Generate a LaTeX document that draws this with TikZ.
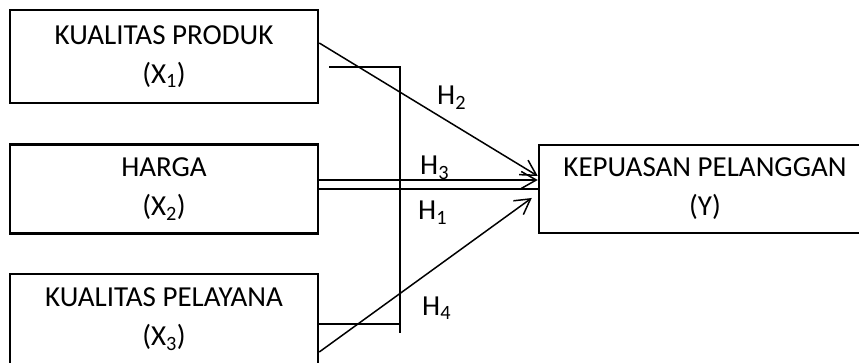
\documentclass[tikz,border=0pt]{standalone}
\usepackage{fontspec}
\setmainfont{Carlito}
\usetikzlibrary{arrows.meta}
\begin{document}
\begin{tikzpicture}[x=1pt,y=-1pt,
  var/.style={draw, line width=2.5pt, align=center, minimum width=308pt, minimum height=89pt, font=\fontsize{29}{39}\selectfont, execute at begin node={\rule{0pt}{25pt}}},
  hyp/.style={anchor=base west, inner sep=0pt, font=\fontsize{29}{35}\selectfont},
  arr/.style={line width=1.5pt, -{Straight Barb[length=15pt,width=17pt]}},
  link/.style={line width=1.5pt}]
\path[use as bounding box, clip] (0,0) rectangle (859,363);
\node[var, minimum height=93pt] (produk) at (164,56.5) {KUALITAS PRODUK\\ (X\textsubscript{1})};
\node[var] (harga) at (164,189) {HARGA\\ (X\textsubscript{2})};
\node[var, minimum height=90pt] (layan) at (164,319) {KUALITAS PELAYANA\\ (X\textsubscript{3})};
\node[var, minimum width=332pt, minimum height=88pt] (puas) at (705,189) {KEPUASAN PELANGGAN\\ (Y)};
\coordinate (knee1) at (400,67);
\coordinate (knee3) at (400,324);
\coordinate (tail) at (400,333);
\draw[link] ([xshift=10pt,yshift=-10.5pt]produk.east) -- (knee1) -- (tail);
\draw[link] ([yshift=-5pt]layan.east) -- (knee3);
\draw[arr] ([yshift=13.5pt]produk.east) -- ([yshift=13pt]puas.west);
\draw[arr] ([yshift=9pt]harga.east) -- ([yshift=9pt]puas.west);
\draw[link] (harga.east) -- (puas.west);
\draw[arr] ([yshift=-33pt]layan.east) -- ([xshift=-6pt,yshift=-9pt]puas.west);
\node[hyp] (h2) at (437,105) {H\textsubscript{2}};
\node[hyp] (h3) at (420,175) {H\textsubscript{3}};
\node[hyp] (h1) at (418,220) {H\textsubscript{1}};
\node[hyp] (h4) at (422,315) {H\textsubscript{4}};
\end{tikzpicture}
\end{document}
